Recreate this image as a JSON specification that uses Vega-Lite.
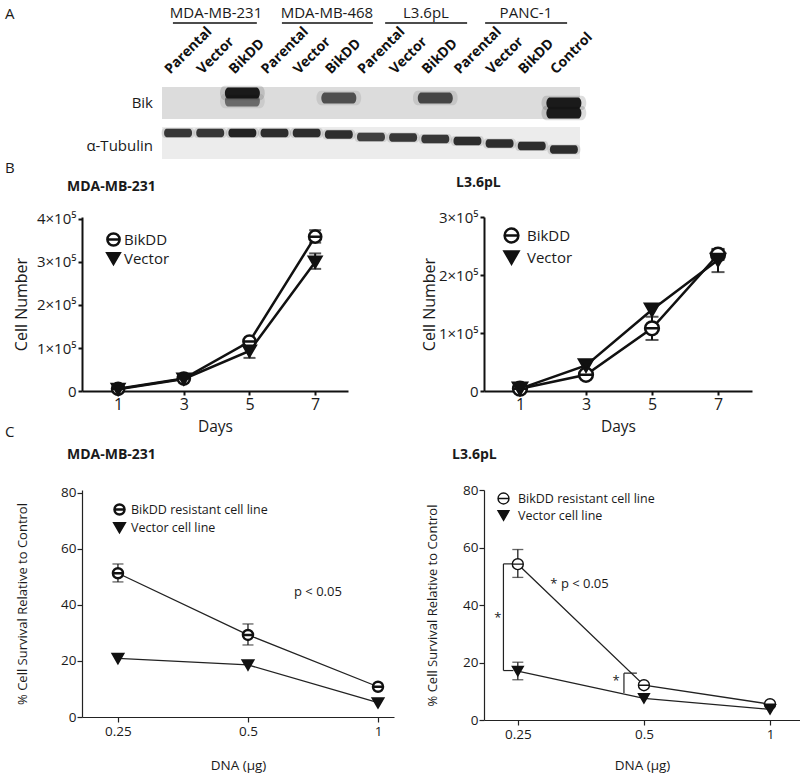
{
  "$schema": "https://vega.github.io/schema/vega-lite/v6.json",
  "background": "white",
  "padding": {"left": 5, "top": 0, "right": 0, "bottom": 3},
  "columns": 2,
  "spacing": {"row": 99, "column": 90},
  "align": "each",
  "bounds": "flush",
  "resolve": {"scale": {"shape": "independent", "fill": "independent", "stroke": "independent", "color": "independent", "opacity": "independent", "fillOpacity": "independent"}, "legend": {"shape": "independent", "fill": "independent", "stroke": "independent"}},
  "config": {
    "font": "Open Sans",
    "view": {"stroke": null},
    "axis": {"grid": false, "labelFont": "Open Sans", "titleFont": "Open Sans", "titleFontWeight": "normal", "labelColor": "#1a1a1a", "titleColor": "#1a1a1a", "domainColor": "#1a1a1a", "tickColor": "#1a1a1a", "labelFlush": false, "labelOverlap": false},
    "title": {"anchor": "start", "frame": "group", "font": "Open Sans", "fontSize": 14, "fontWeight": "bold", "color": "#1a1a1a"},
    "legend": {"labelFont": "Open Sans", "labelColor": "#1a1a1a", "padding": 0}
  },
  "datasets": {
    "panels": [
      {"panel": "A", "row": 14},
      {"panel": "B", "row": 168},
      {"panel": "C", "row": 432}
    ],
    "strips": [
      {"strip": "Bik", "from": 0.5, "to": 13.5, "top": 87, "bottom": 119, "label_y": 103},
      {"strip": "α-Tubulin", "from": 0.5, "to": 13.5, "top": 127, "bottom": 159, "label_y": 146}
    ],
    "lanes": [
      {"lane": 1, "label": "Parental"}, {"lane": 2, "label": "Vector"}, {"lane": 3, "label": "BikDD"},
      {"lane": 4, "label": "Parental"}, {"lane": 5, "label": "Vector"}, {"lane": 6, "label": "BikDD"},
      {"lane": 7, "label": "Parental"}, {"lane": 8, "label": "Vector"}, {"lane": 9, "label": "BikDD"},
      {"lane": 10, "label": "Parental"}, {"lane": 11, "label": "Vector"}, {"lane": 12, "label": "BikDD"},
      {"lane": 13, "label": "Control"}
    ],
    "groups": [
      {"group": "MDA-MB-231", "start": 0.84, "end": 3.45, "mid": 2.18},
      {"group": "MDA-MB-468", "start": 4.23, "end": 7.06, "mid": 5.63},
      {"group": "L3.6pL", "start": 7.44, "end": 9.99, "mid": 8.71},
      {"group": "PANC-1", "start": 10.55, "end": 13.1, "mid": 11.82}
    ],
    "bands": [
      {"strip": "Bik", "lane": 3, "pos": 93, "signal": 1},
      {"strip": "Bik", "lane": 3, "pos": 101, "signal": 0.55},
      {"strip": "Bik", "lane": 6, "pos": 98, "signal": 0.7},
      {"strip": "Bik", "lane": 9, "pos": 98, "signal": 0.75},
      {"strip": "Bik", "lane": 13, "pos": 103, "signal": 1},
      {"strip": "Bik", "lane": 13, "pos": 113, "signal": 1},
      {"strip": "α-Tubulin", "lane": 1, "pos": 133, "signal": 0.85},
      {"strip": "α-Tubulin", "lane": 2, "pos": 133, "signal": 0.85},
      {"strip": "α-Tubulin", "lane": 3, "pos": 133, "signal": 0.95},
      {"strip": "α-Tubulin", "lane": 4, "pos": 133, "signal": 0.9},
      {"strip": "α-Tubulin", "lane": 5, "pos": 133, "signal": 0.9},
      {"strip": "α-Tubulin", "lane": 6, "pos": 134.5, "signal": 0.9},
      {"strip": "α-Tubulin", "lane": 7, "pos": 137, "signal": 0.8},
      {"strip": "α-Tubulin", "lane": 8, "pos": 137.5, "signal": 0.85},
      {"strip": "α-Tubulin", "lane": 9, "pos": 139, "signal": 0.85},
      {"strip": "α-Tubulin", "lane": 10, "pos": 141, "signal": 0.9},
      {"strip": "α-Tubulin", "lane": 11, "pos": 143.5, "signal": 0.9},
      {"strip": "α-Tubulin", "lane": 12, "pos": 146, "signal": 0.9},
      {"strip": "α-Tubulin", "lane": 13, "pos": 149.5, "signal": 0.9}
    ],
    "growth": [
      {"cell": "MDA-MB-231", "series": "BikDD", "day": 1, "n": 5000},
      {"cell": "MDA-MB-231", "series": "BikDD", "day": 3, "n": 29000},
      {"cell": "MDA-MB-231", "series": "BikDD", "day": 5, "n": 115000},
      {"cell": "MDA-MB-231", "series": "BikDD", "day": 7, "n": 359000, "lo": 345000, "hi": 374000},
      {"cell": "MDA-MB-231", "series": "Vector", "day": 1, "n": 4000},
      {"cell": "MDA-MB-231", "series": "Vector", "day": 3, "n": 28000},
      {"cell": "MDA-MB-231", "series": "Vector", "day": 5, "n": 93000, "lo": 77000, "hi": 106000},
      {"cell": "MDA-MB-231", "series": "Vector", "day": 7, "n": 300000, "lo": 284000, "hi": 320000},
      {"cell": "L3.6pL", "series": "BikDD", "day": 1, "n": 4000},
      {"cell": "L3.6pL", "series": "BikDD", "day": 3, "n": 28000},
      {"cell": "L3.6pL", "series": "BikDD", "day": 5, "n": 108000, "lo": 88000, "hi": 128000},
      {"cell": "L3.6pL", "series": "BikDD", "day": 7, "n": 235000, "lo": 226000, "hi": 244000},
      {"cell": "L3.6pL", "series": "Vector", "day": 1, "n": 4000},
      {"cell": "L3.6pL", "series": "Vector", "day": 3, "n": 44000},
      {"cell": "L3.6pL", "series": "Vector", "day": 5, "n": 140000},
      {"cell": "L3.6pL", "series": "Vector", "day": 7, "n": 226000, "lo": 205000, "hi": 245000}
    ],
    "survival": [
      {"cell": "MDA-MB-231", "series": "BikDD resistant cell line", "dna": 0.25, "pct": 51.3, "lo": 48.2, "hi": 54.6},
      {"cell": "MDA-MB-231", "series": "BikDD resistant cell line", "dna": 0.5, "pct": 29.3, "lo": 25.7, "hi": 33.2},
      {"cell": "MDA-MB-231", "series": "BikDD resistant cell line", "dna": 1, "pct": 10.8},
      {"cell": "MDA-MB-231", "series": "Vector cell line", "dna": 0.25, "pct": 20.9},
      {"cell": "MDA-MB-231", "series": "Vector cell line", "dna": 0.5, "pct": 18.6},
      {"cell": "MDA-MB-231", "series": "Vector cell line", "dna": 1, "pct": 5.1},
      {"cell": "L3.6pL", "series": "BikDD resistant cell line", "dna": 0.25, "pct": 54.2, "lo": 49.6, "hi": 59.3},
      {"cell": "L3.6pL", "series": "BikDD resistant cell line", "dna": 0.5, "pct": 12.1},
      {"cell": "L3.6pL", "series": "BikDD resistant cell line", "dna": 1, "pct": 5.5},
      {"cell": "L3.6pL", "series": "Vector cell line", "dna": 0.25, "pct": 17.0, "lo": 14.0, "hi": 20.1},
      {"cell": "L3.6pL", "series": "Vector cell line", "dna": 0.5, "pct": 7.5},
      {"cell": "L3.6pL", "series": "Vector cell line", "dna": 1, "pct": 3.7}
    ],
    "notes": [
      {"cell": "MDA-MB-231", "dna": 0.726, "pct": 44.6, "note": "p < 0.05"},
      {"cell": "L3.6pL", "dna": 0.351, "pct": 47.2, "note": "* p < 0.05"},
      {"cell": "L3.6pL", "dna": 0.224, "pct": 35.6, "note": "*"},
      {"cell": "L3.6pL", "dna": 0.429, "pct": 13.4, "note": "*"}
    ],
    "brackets": [
      {"cell": "L3.6pL", "dna": 0.231, "dna2": 0.231, "pct": 17.2, "pct2": 54.3},
      {"cell": "L3.6pL", "dna": 0.231, "dna2": 0.244, "pct": 54.3, "pct2": 54.3},
      {"cell": "L3.6pL", "dna": 0.231, "dna2": 0.244, "pct": 17.2, "pct2": 17.2},
      {"cell": "L3.6pL", "dna": 0.448, "dna2": 0.448, "pct": 9.4, "pct2": 16.3},
      {"cell": "L3.6pL", "dna": 0.448, "dna2": 0.481, "pct": 16.3, "pct2": 16.3}
    ]
  },
  "concat": [
    {
      "width": 312,
      "height": 118,
      "resolve": {"scale": {"opacity": "independent"}},
      "layer": [
        {
          "data": {"name": "strips"},
          "mark": {"type": "rect"},
          "encoding": {
            "x": {"field": "from", "type": "quantitative", "scale": {"domain": [-1.988, 7.716], "nice": false, "zero": false}, "axis": null},
            "x2": {"field": "to"},
            "y": {"field": "top", "type": "quantitative", "scale": {"domain": [0, 118], "nice": false, "zero": false, "reverse": true}, "axis": null},
            "y2": {"field": "bottom"},
            "color": {"field": "strip", "type": "nominal", "scale": {"domain": ["Bik", "α-Tubulin"], "range": ["#dcdcdc", "#ececec"]}, "legend": null}
          }
        },
        {
          "data": {"name": "bands"},
          "transform": [{"filter": "datum.strip === 'Bik'"}],
          "mark": {"type": "point", "shape": "M-0.8,-0.32L0.8,-0.32A0.2,0.32 0 0 1 0.8,0.32L-0.8,0.32A0.2,0.32 0 0 1 -0.8,-0.32Z", "size": 2000, "filled": true, "fill": "#111", "strokeWidth": 0},
          "encoding": {
            "x": {"field": "lane", "type": "quantitative", "scale": {"domain": [-1.988, 7.716], "nice": false, "zero": false}, "axis": null},
            "y": {"field": "pos", "type": "quantitative", "scale": {"domain": [0, 118], "nice": false, "zero": false, "reverse": true}, "axis": null},
            "fillOpacity": {"field": "signal", "type": "quantitative", "scale": {"domain": [0, 1], "range": [0, 0.2]}, "legend": null}
          }
        },
        {
          "data": {"name": "bands"},
          "transform": [{"filter": "datum.strip === 'Bik'"}],
          "mark": {"type": "point", "shape": "M-0.8,-0.32L0.8,-0.32A0.2,0.32 0 0 1 0.8,0.32L-0.8,0.32A0.2,0.32 0 0 1 -0.8,-0.32Z", "size": 1225, "filled": true, "fill": "#111", "strokeWidth": 0},
          "encoding": {
            "x": {"field": "lane", "type": "quantitative", "scale": {"domain": [-1.988, 7.716], "nice": false, "zero": false}, "axis": null},
            "y": {"field": "pos", "type": "quantitative", "scale": {"domain": [0, 118], "nice": false, "zero": false, "reverse": true}, "axis": null},
            "opacity": {"field": "signal", "type": "quantitative", "scale": {"domain": [0, 1], "range": [0, 0.95]}, "legend": null}
          }
        },
        {
          "data": {"name": "bands"},
          "transform": [{"filter": "datum.strip !== 'Bik'"}],
          "mark": {"type": "point", "shape": "M-0.82,-0.3L0.82,-0.3A0.18,0.3 0 0 1 0.82,0.3L-0.82,0.3A0.18,0.3 0 0 1 -0.82,-0.3Z", "size": 1100, "filled": true, "fill": "#111", "strokeWidth": 0},
          "encoding": {
            "x": {"field": "lane", "type": "quantitative", "scale": {"domain": [-1.988, 7.716], "nice": false, "zero": false}, "axis": null},
            "y": {"field": "pos", "type": "quantitative", "scale": {"domain": [0, 118], "nice": false, "zero": false, "reverse": true}, "axis": null},
            "fillOpacity": {"field": "signal", "type": "quantitative", "scale": {"domain": [0, 1], "range": [0, 0.2]}, "legend": null}
          }
        },
        {
          "data": {"name": "bands"},
          "transform": [{"filter": "datum.strip !== 'Bik'"}],
          "mark": {"type": "point", "shape": "M-0.82,-0.3L0.82,-0.3A0.18,0.3 0 0 1 0.82,0.3L-0.82,0.3A0.18,0.3 0 0 1 -0.82,-0.3Z", "size": 784, "filled": true, "fill": "#111", "strokeWidth": 0},
          "encoding": {
            "x": {"field": "lane", "type": "quantitative", "scale": {"domain": [-1.988, 7.716], "nice": false, "zero": false}, "axis": null},
            "y": {"field": "pos", "type": "quantitative", "scale": {"domain": [0, 118], "nice": false, "zero": false, "reverse": true}, "axis": null},
            "opacity": {"field": "signal", "type": "quantitative", "scale": {"domain": [0, 1], "range": [0, 0.95]}, "legend": null}
          }
        },
        {
          "data": {"name": "lanes"},
          "mark": {"type": "text", "angle": -45, "align": "left", "baseline": "alphabetic", "dx": -11, "fontSize": 14, "fontWeight": "bold", "color": "#111"},
          "encoding": {
            "x": {"field": "lane", "type": "quantitative", "scale": {"domain": [-1.988, 7.716], "nice": false, "zero": false}, "axis": null},
            "y": {"datum": 67, "type": "quantitative", "scale": {"domain": [0, 118], "nice": false, "zero": false, "reverse": true}, "axis": null},
            "text": {"field": "label"}
          }
        },
        {
          "data": {"name": "groups"},
          "mark": {"type": "text", "fontSize": 15, "baseline": "middle", "color": "#1a1a1a"},
          "encoding": {
            "x": {"field": "mid", "type": "quantitative", "scale": {"domain": [-1.988, 7.716], "nice": false, "zero": false}, "axis": null},
            "y": {"datum": 13, "type": "quantitative", "scale": {"domain": [0, 118], "nice": false, "zero": false, "reverse": true}, "axis": null},
            "text": {"field": "group"}
          }
        },
        {
          "data": {"name": "groups"},
          "mark": {"type": "rule", "strokeWidth": 1.6, "color": "#111"},
          "encoding": {
            "x": {"field": "start", "type": "quantitative", "scale": {"domain": [-1.988, 7.716], "nice": false, "zero": false}, "axis": null},
            "x2": {"field": "end"},
            "y": {"datum": 23, "type": "quantitative", "scale": {"domain": [0, 118], "nice": false, "zero": false, "reverse": true}, "axis": null}
          }
        },
        {
          "data": {"name": "strips"},
          "mark": {"type": "text", "align": "right", "baseline": "middle", "fontSize": 15, "color": "#1a1a1a"},
          "encoding": {
            "x": {"datum": 0.22, "type": "quantitative", "scale": {"domain": [-1.988, 7.716], "nice": false, "zero": false}, "axis": null},
            "y": {"field": "label_y", "type": "quantitative", "scale": {"domain": [0, 118], "nice": false, "zero": false, "reverse": true}, "axis": null},
            "text": {"field": "strip"}
          }
        },
        {
          "data": {"name": "panels"},
          "mark": {"type": "text", "align": "left", "baseline": "middle", "fontSize": 15, "color": "#1a1a1a"},
          "encoding": {
            "x": {"datum": -4.38, "type": "quantitative", "scale": {"domain": [-1.988, 7.716], "nice": false, "zero": false}, "axis": null},
            "y": {"field": "row", "type": "quantitative", "scale": {"domain": [0, 118], "nice": false, "zero": false, "reverse": true}, "axis": null},
            "text": {"field": "panel"}
          }
        }
      ]
    },
    {
      "width": 10,
      "height": 10,
      "data": {"values": []},
      "mark": {"type": "point", "opacity": 0},
      "encoding": {}
    },
    {
      "width": 266,
      "height": 174,
      "title": {"text": "MDA-MB-231", "dx": -15, "offset": 18},
      "data": {"name": "growth"},
      "transform": [{"filter": "datum.cell === 'MDA-MB-231'"}],
      "encoding": {
        "x": {"field": "day", "type": "quantitative", "scale": {"domain": [-0.1, 8], "nice": false, "zero": false},
          "axis": {"values": [1, 3, 5, 7], "title": "Days", "titleFontSize": 15.5, "labelFontSize": 16, "domainWidth": 2, "tickWidth": 2, "tickSize": 4, "labelPadding": 1, "titlePadding": 7, "domainColor": "#111", "tickColor": "#111"}},
        "y": {"field": "n", "type": "quantitative", "scale": {"domain": [0, 404651], "nice": false},
          "axis": {"values": [0, 100000, 200000, 300000, 400000], "labelExpr": "datum.value == 0 ? '0' : format(datum.value / 100000, 'd') + '×10⁵'", "title": "Cell Number", "titleFontSize": 16, "labelFontSize": 15, "domainWidth": 2, "tickWidth": 2, "tickSize": 4, "labelPadding": 2, "titlePadding": 7, "domainColor": "#111", "tickColor": "#111"}}
      },
      "layer": [
        {"mark": {"type": "line", "color": "#111", "strokeWidth": 2.5}, "encoding": {"detail": {"field": "series"}}},
        {"transform": [{"filter": "isValid(datum.lo)"}], "mark": {"type": "rule", "color": "#111", "strokeWidth": 2}, "encoding": {"y": {"field": "lo", "type": "quantitative", "title": "Cell Number"}, "y2": {"field": "hi"}}},
        {"transform": [{"filter": "isValid(datum.lo)"}], "mark": {"type": "tick", "orient": "horizontal", "color": "#111", "thickness": 2, "size": 12}, "encoding": {"y": {"field": "lo", "type": "quantitative", "title": "Cell Number"}}},
        {"transform": [{"filter": "isValid(datum.hi)"}], "mark": {"type": "tick", "orient": "horizontal", "color": "#111", "thickness": 2, "size": 12}, "encoding": {"y": {"field": "hi", "type": "quantitative", "title": "Cell Number"}}},
        {"mark": {"type": "point", "strokeWidth": 2.5, "opacity": 1, "size": 150, "filled": false},
          "encoding": {
            "shape": {"field": "series", "type": "nominal", "scale": {"domain": ["BikDD", "Vector"], "range": ["M-1,0A1,1 0 1,1 1,0A1,1 0 1,1 -1,0ZM-1,0L1,0", "triangle-down"]},
              "legend": {"orient": "none", "legendX": 24, "legendY": 15, "title": null, "labelFontSize": 15, "symbolSize": 150, "symbolStrokeWidth": 2.5, "labelOffset": 3, "rowPadding": -4}},
            "fill": {"field": "series", "type": "nominal", "scale": {"domain": ["BikDD", "Vector"], "range": ["white", "#111"]},
              "legend": {"orient": "none", "legendX": 24, "legendY": 15, "title": null, "labelFontSize": 15, "symbolSize": 150, "symbolStrokeWidth": 2.5, "labelOffset": 3, "rowPadding": -4}},
            "stroke": {"field": "series", "type": "nominal", "scale": {"domain": ["BikDD", "Vector"], "range": ["#111", "#111"]},
              "legend": {"orient": "none", "legendX": 24, "legendY": 15, "title": null, "labelFontSize": 15, "symbolSize": 150, "symbolStrokeWidth": 2.5, "labelOffset": 3, "rowPadding": -4}}
          }}
      ]
    },
    {
      "width": 268,
      "height": 174,
      "title": {"text": "L3.6pL", "dx": -28, "offset": 20},
      "data": {"name": "growth"},
      "transform": [{"filter": "datum.cell === 'L3.6pL'"}],
      "encoding": {
        "x": {"field": "day", "type": "quantitative", "scale": {"domain": [-0.09, 8.03], "nice": false, "zero": false},
          "axis": {"values": [1, 3, 5, 7], "title": "Days", "titleFontSize": 15.5, "labelFontSize": 16, "domainWidth": 2, "tickWidth": 2, "tickSize": 4, "labelPadding": 1, "titlePadding": 7, "domainColor": "#111", "tickColor": "#111"}},
        "y": {"field": "n", "type": "quantitative", "scale": {"domain": [0, 300000], "nice": false},
          "axis": {"values": [0, 100000, 200000, 300000], "labelExpr": "datum.value == 0 ? '0' : format(datum.value / 100000, 'd') + '×10⁵'", "title": "Cell Number", "titleFontSize": 16, "labelFontSize": 15, "domainWidth": 2, "tickWidth": 2, "tickSize": 4, "labelPadding": 2, "titlePadding": 1, "domainColor": "#111", "tickColor": "#111"}}
      },
      "layer": [
        {"mark": {"type": "line", "color": "#111", "strokeWidth": 2.5}, "encoding": {"detail": {"field": "series"}}},
        {"transform": [{"filter": "isValid(datum.lo)"}], "mark": {"type": "rule", "color": "#111", "strokeWidth": 2}, "encoding": {"y": {"field": "lo", "type": "quantitative", "title": "Cell Number"}, "y2": {"field": "hi"}}},
        {"transform": [{"filter": "isValid(datum.lo)"}], "mark": {"type": "tick", "orient": "horizontal", "color": "#111", "thickness": 2, "size": 13}, "encoding": {"y": {"field": "lo", "type": "quantitative", "title": "Cell Number"}}},
        {"transform": [{"filter": "isValid(datum.hi)"}], "mark": {"type": "tick", "orient": "horizontal", "color": "#111", "thickness": 2, "size": 13}, "encoding": {"y": {"field": "hi", "type": "quantitative", "title": "Cell Number"}}},
        {"mark": {"type": "point", "strokeWidth": 2.5, "opacity": 1, "size": 190, "filled": false},
          "encoding": {
            "shape": {"field": "series", "type": "nominal", "scale": {"domain": ["BikDD", "Vector"], "range": ["M-1,0A1,1 0 1,1 1,0A1,1 0 1,1 -1,0ZM-1,0L1,0", "triangle-down"]},
              "legend": {"orient": "none", "legendX": 19, "legendY": 10, "title": null, "labelFontSize": 15, "symbolSize": 190, "symbolStrokeWidth": 2.5, "labelOffset": 7, "rowPadding": -2}},
            "fill": {"field": "series", "type": "nominal", "scale": {"domain": ["BikDD", "Vector"], "range": ["white", "#111"]},
              "legend": {"orient": "none", "legendX": 19, "legendY": 10, "title": null, "labelFontSize": 15, "symbolSize": 190, "symbolStrokeWidth": 2.5, "labelOffset": 7, "rowPadding": -2}},
            "stroke": {"field": "series", "type": "nominal", "scale": {"domain": ["BikDD", "Vector"], "range": ["#111", "#111"]},
              "legend": {"orient": "none", "legendX": 19, "legendY": 10, "title": null, "labelFontSize": 15, "symbolSize": 190, "symbolStrokeWidth": 2.5, "labelOffset": 7, "rowPadding": -2}}
          }}
      ]
    },
    {
      "width": 312,
      "height": 227,
      "title": {"text": "MDA-MB-231", "dx": -15, "offset": 24},
      "data": {"name": "survival"},
      "transform": [{"filter": "datum.cell === 'MDA-MB-231'"}],
      "encoding": {
        "x": {"field": "dna", "type": "quantitative", "scale": {"type": "log", "base": 2, "domain": [0.2064, 1.089], "nice": false},
          "axis": {"values": [0.25, 0.5, 1], "format": "~g", "title": "DNA (µg)", "titleFontSize": 13.5, "labelFontSize": 13.5, "domainWidth": 1.2, "tickWidth": 1.2, "tickSize": 5, "labelPadding": 2, "titlePadding": 21, "domainColor": "#222", "tickColor": "#222"}},
        "y": {"field": "pct", "type": "quantitative", "scale": {"domain": [0, 81], "nice": false},
          "axis": {"values": [0, 20, 40, 60, 80], "title": "% Cell Survival Relative to Control", "titleFontSize": 13, "labelFontSize": 13.5, "domainWidth": 1.2, "tickWidth": 1.2, "tickSize": 5, "labelPadding": 1, "titlePadding": 31, "domainColor": "#222", "tickColor": "#222"}}
      },
      "layer": [
        {"mark": {"type": "line", "color": "#222", "strokeWidth": 1.3}, "encoding": {"detail": {"field": "series"}}},
        {"transform": [{"filter": "isValid(datum.lo)"}], "mark": {"type": "rule", "color": "#222", "strokeWidth": 1.3}, "encoding": {"y": {"field": "lo", "type": "quantitative", "title": "% Cell Survival Relative to Control"}, "y2": {"field": "hi"}}},
        {"transform": [{"filter": "isValid(datum.lo)"}], "mark": {"type": "tick", "orient": "horizontal", "color": "#222", "thickness": 1.3, "size": 11}, "encoding": {"y": {"field": "lo", "type": "quantitative", "title": "% Cell Survival Relative to Control"}}},
        {"transform": [{"filter": "isValid(datum.hi)"}], "mark": {"type": "tick", "orient": "horizontal", "color": "#222", "thickness": 1.3, "size": 11}, "encoding": {"y": {"field": "hi", "type": "quantitative", "title": "% Cell Survival Relative to Control"}}},
        {"mark": {"type": "point", "strokeWidth": 2.5, "opacity": 1, "size": 100, "filled": false},
          "encoding": {
            "shape": {"field": "series", "type": "nominal", "scale": {"domain": ["BikDD resistant cell line", "Vector cell line"], "range": ["M-1,0A1,1 0 1,1 1,0A1,1 0 1,1 -1,0ZM-1,0L1,0", "triangle-down"]},
              "legend": {"orient": "none", "legendX": 31, "legendY": 13, "title": null, "labelFontSize": 12.5, "labelLimit": 300, "symbolSize": 100, "symbolStrokeWidth": 2.5, "labelOffset": 5, "rowPadding": -2}},
            "fill": {"field": "series", "type": "nominal", "scale": {"domain": ["BikDD resistant cell line", "Vector cell line"], "range": ["white", "#111"]},
              "legend": {"orient": "none", "legendX": 31, "legendY": 13, "title": null, "labelFontSize": 12.5, "labelLimit": 300, "symbolSize": 100, "symbolStrokeWidth": 2.5, "labelOffset": 5, "rowPadding": -2}},
            "stroke": {"field": "series", "type": "nominal", "scale": {"domain": ["BikDD resistant cell line", "Vector cell line"], "range": ["#111", "#111"]},
              "legend": {"orient": "none", "legendX": 31, "legendY": 13, "title": null, "labelFontSize": 12.5, "labelLimit": 300, "symbolSize": 100, "symbolStrokeWidth": 2.5, "labelOffset": 5, "rowPadding": -2}}
          }},
        {"data": {"name": "notes"}, "transform": [{"filter": "datum.cell === 'MDA-MB-231'"}], "mark": {"type": "text", "fontSize": 13, "color": "#1a1a1a", "baseline": "middle"}, "encoding": {"text": {"field": "note"}}}
      ]
    },
    {
      "width": 316,
      "height": 230,
      "title": {"text": "L3.6pL", "dx": -32, "offset": 21},
      "data": {"name": "survival"},
      "transform": [{"filter": "datum.cell === 'L3.6pL'"}],
      "encoding": {
        "x": {"field": "dna", "type": "quantitative", "scale": {"type": "log", "base": 2, "domain": [0.2076, 1.179], "nice": false},
          "axis": {"values": [0.25, 0.5, 1], "format": "~g", "title": "DNA (µg)", "titleFontSize": 13.5, "labelFontSize": 13.5, "domainWidth": 1.2, "tickWidth": 1.2, "tickSize": 5, "labelPadding": 2, "titlePadding": 18, "domainColor": "#222", "tickColor": "#222"}},
        "y": {"field": "pct", "type": "quantitative", "scale": {"domain": [0, 80], "nice": false},
          "axis": {"values": [0, 20, 40, 60, 80], "title": "% Cell Survival Relative to Control", "titleFontSize": 13, "labelFontSize": 13.5, "domainWidth": 1.2, "tickWidth": 1.2, "tickSize": 5, "labelPadding": 1, "titlePadding": 23, "domainColor": "#222", "tickColor": "#222"}}
      },
      "layer": [
        {"mark": {"type": "line", "color": "#222", "strokeWidth": 1.3}, "encoding": {"detail": {"field": "series"}}},
        {"transform": [{"filter": "isValid(datum.lo)"}], "mark": {"type": "rule", "color": "#222", "strokeWidth": 1.3}, "encoding": {"y": {"field": "lo", "type": "quantitative", "title": "% Cell Survival Relative to Control"}, "y2": {"field": "hi"}}},
        {"transform": [{"filter": "isValid(datum.lo)"}], "mark": {"type": "tick", "orient": "horizontal", "color": "#222", "thickness": 1.3, "size": 11}, "encoding": {"y": {"field": "lo", "type": "quantitative", "title": "% Cell Survival Relative to Control"}}},
        {"transform": [{"filter": "isValid(datum.hi)"}], "mark": {"type": "tick", "orient": "horizontal", "color": "#222", "thickness": 1.3, "size": 11}, "encoding": {"y": {"field": "hi", "type": "quantitative", "title": "% Cell Survival Relative to Control"}}},
        {"data": {"name": "brackets"}, "mark": {"type": "rule", "color": "#222", "strokeWidth": 1.2}, "encoding": {"x2": {"field": "dna2"}, "y2": {"field": "pct2"}}},
        {"mark": {"type": "point", "strokeWidth": 1.4, "opacity": 1, "size": 120, "filled": false},
          "encoding": {
            "shape": {"field": "series", "type": "nominal", "scale": {"domain": ["BikDD resistant cell line", "Vector cell line"], "range": ["M-1,0A1,1 0 1,1 1,0A1,1 0 1,1 -1,0ZM-1,0L1,0", "triangle-down"]},
              "legend": {"orient": "none", "legendX": 13, "legendY": 2, "title": null, "labelFontSize": 12.5, "labelLimit": 300, "symbolSize": 120, "symbolStrokeWidth": 1.4, "labelOffset": 8, "rowPadding": 0}},
            "fill": {"field": "series", "type": "nominal", "scale": {"domain": ["BikDD resistant cell line", "Vector cell line"], "range": ["white", "#111"]},
              "legend": {"orient": "none", "legendX": 13, "legendY": 2, "title": null, "labelFontSize": 12.5, "labelLimit": 300, "symbolSize": 120, "symbolStrokeWidth": 1.4, "labelOffset": 8, "rowPadding": 0}},
            "stroke": {"field": "series", "type": "nominal", "scale": {"domain": ["BikDD resistant cell line", "Vector cell line"], "range": ["#111", "#111"]},
              "legend": {"orient": "none", "legendX": 13, "legendY": 2, "title": null, "labelFontSize": 12.5, "labelLimit": 300, "symbolSize": 120, "symbolStrokeWidth": 1.4, "labelOffset": 8, "rowPadding": 0}}
          }},
        {"data": {"name": "notes"}, "transform": [{"filter": "datum.cell === 'L3.6pL'"}], "mark": {"type": "text", "fontSize": 13, "color": "#1a1a1a", "baseline": "middle"}, "encoding": {"text": {"field": "note"}}}
      ]
    }
  ]
}
